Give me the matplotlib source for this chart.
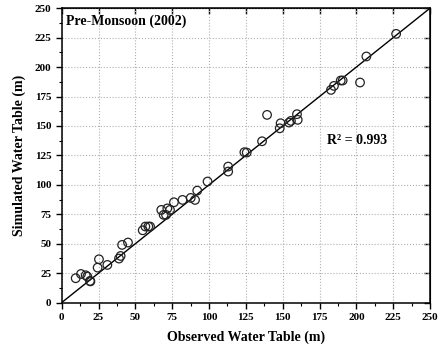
import matplotlib.pyplot as plt
from matplotlib.ticker import MultipleLocator

plt.rcParams['font.family'] = ['Liberation Serif', 'DejaVu Serif']
plt.rcParams['font.weight'] = 'bold'

observed = [9.5, 13.1, 16.3, 17.4, 19.2, 19.5, 24.4, 25.3, 31.0, 38.9,
            40.0, 41.0, 45.0, 55.0, 56.8, 58.8, 60.0, 67.6, 69.2, 70.8,
            71.7, 73.5, 76.2, 82.0, 87.6, 90.5, 92.0, 99.0, 113.0, 113.0,
            124.0, 125.6, 136.0, 139.4, 148.0, 148.6, 154.3, 155.6, 159.7, 160.2,
            182.8, 184.8, 189.4, 190.7, 202.5, 206.8, 227.0]
simulated = [20.7, 24.3, 23.2, 22.1, 18.4, 18.0, 29.7, 36.8, 32.0, 37.4,
             39.6, 49.0, 51.0, 61.4, 64.6, 64.6, 64.6, 78.7, 74.5, 74.5,
             80.0, 78.7, 85.2, 87.2, 88.9, 87.2, 95.1, 102.8, 111.3, 115.5,
             127.7, 127.4, 137.0, 159.4, 148.0, 152.3, 152.9, 154.3, 160.0, 155.2,
             180.6, 184.0, 188.6, 188.6, 186.9, 209.0, 228.2]
one_to_one = [0, 250]

fig = plt.figure(figsize=(4.47, 3.56), dpi=100)
ax = fig.add_axes([0.138, 0.150, 0.824, 0.827])

ax.plot(one_to_one, one_to_one, color='black', lw=1.0, zorder=2)
ax.scatter(observed, simulated, s=38, facecolors='none', edgecolors='#222222',
           linewidths=0.9, zorder=3)

ax.set_xlim(0, 250)
ax.set_ylim(0, 250)
for axis in (ax.xaxis, ax.yaxis):
    axis.set_major_locator(MultipleLocator(25))
    axis.set_minor_locator(MultipleLocator(12.5))
ax.grid(True, which='major', color='#b0b0b0', linestyle=':', lw=0.8)
ax.set_axisbelow(True)

ax.tick_params(which='major', direction='out', length=4, width=1.0, labelsize=8)
ax.tick_params(which='minor', direction='out', length=2.5, width=0.8)
for lab in ax.get_xticklabels() + ax.get_yticklabels():
    lab.set_fontweight('bold')

top = ax.secondary_xaxis('top')
top.set_xticks(range(0, 251, 25))
top.tick_params(direction='in', length=4, width=1.0, labeltop=False)
right = ax.secondary_yaxis('right')
right.set_yticks(range(0, 251, 25))
right.tick_params(direction='in', length=4, width=1.0, labelright=False)

for sp in ax.spines.values():
    sp.set_linewidth(1.1)

ax.set_xlabel('Observed Water Table (m)', fontsize=10, fontweight='bold', labelpad=6)
ax.set_ylabel('Simulated Water Table (m)', fontsize=10, fontweight='bold', labelpad=6)

ax.text(0.012, 0.978, 'Pre-Monsoon (2002)', transform=ax.transAxes,
        fontsize=10, fontweight='bold', va='top', ha='left')
ax.text(0.72, 0.549, 'R² = 0.993', transform=ax.transAxes,
        fontsize=10, fontweight='bold', va='center', ha='left')

fig.savefig('out.png', dpi=100)
